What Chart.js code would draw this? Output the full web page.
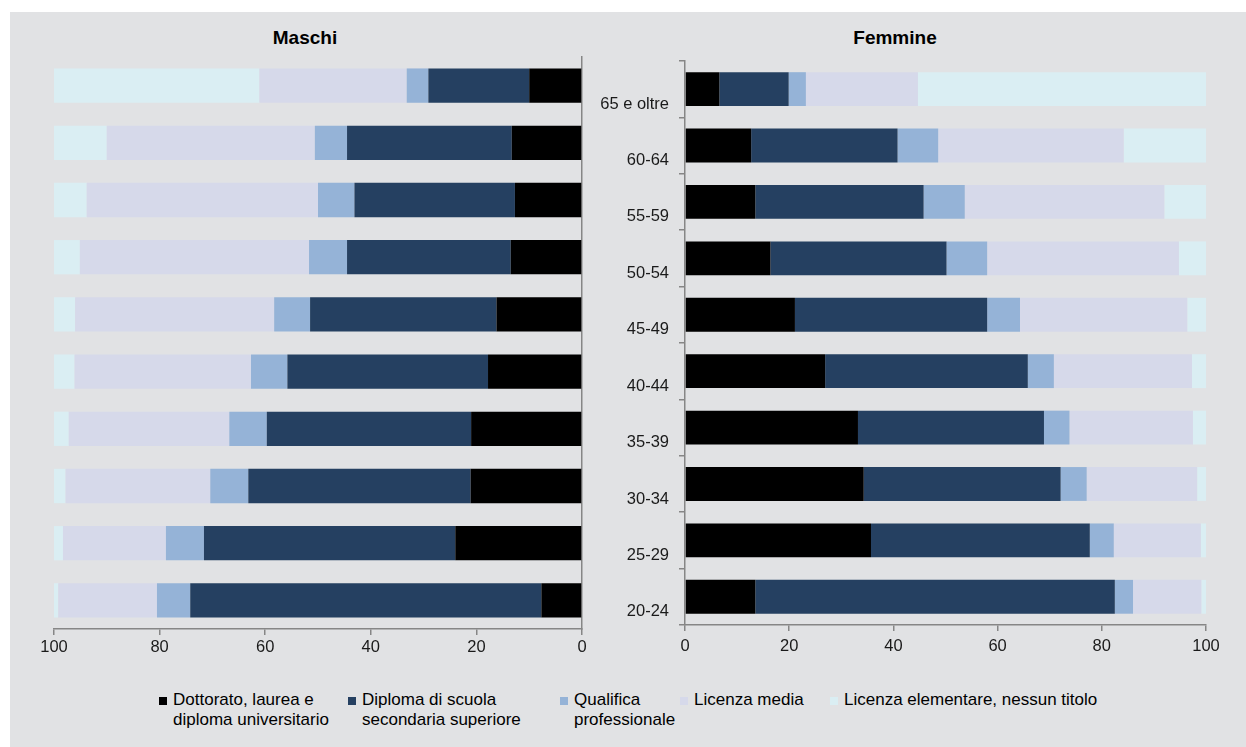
<!DOCTYPE html>
<html>
<head>
<meta charset="utf-8">
<script src="https://cdn.jsdelivr.net/npm/chart.js@4.4.1/dist/chart.umd.min.js"></script>
<style>
  body { margin: 0; background: #ffffff; font-family: "Liberation Sans", Arial, sans-serif; }
  #panel { position: absolute; left: 10px; top: 12px; width: 1236px; height: 735px; background: #e1e2e4; }
  .wrap { position: absolute; }
  .title { position: absolute; top: 15px; font-weight: bold; font-size: 19px; color: #000; text-align: center; }
  #legend { position: absolute; top: 678px; left: 0; width: 1236px; height: 50px; font-size: 17px; color: #000; }
  .item { position: absolute; top: 0; display: flex; align-items: flex-start; white-space: pre-line; line-height: 20px; }
  .box { width: 8px; height: 8px; margin-top: 7px; margin-right: 6px; flex: none; }
</style>
</head>
<body>
<div id="panel">
  <div class="title" style="left: 200px; width: 190px;">Maschi</div>
  <div class="title" style="left: 790px; width: 190px;">Femmine</div>
  <div class="wrap" style="left: 10px; top: 38px; width: 580px; height: 620px;"><canvas id="maschi"></canvas></div>
  <div class="wrap" style="left: 590px; top: 29px; width: 630px; height: 625px;"><canvas id="femmine"></canvas></div>
  <div id="legend"></div>
</div>
<script>
const ageGroups = ['65 e oltre', '60-64', '55-59', '50-54', '45-49', '40-44', '35-39', '30-34', '25-29', '20-24'];
const seriesNames = [
  'Dottorato, laurea e\ndiploma universitario',
  'Diploma di scuola\nsecondaria superiore',
  'Qualifica\nprofessionale',
  'Licenza media',
  'Licenza elementare, nessun titolo'
];
const seriesColors = ['#000000', '#254061', '#95b3d7', '#d6d9ea', '#daeef3'];
const xTicks = [0, 20, 40, 60, 80, 100];

// Maschi (valori percentuali)
const maschiDottorato  = [10.0, 13.3, 12.7, 13.5, 16.2, 17.8, 21.0, 21.1, 24.0, 7.7];
const maschiDiploma    = [19.1, 31.2, 30.4, 31.0, 35.3, 38.0, 38.7, 42.1, 47.6, 66.5];
const maschiQualifica  = [4.1, 6.1, 6.9, 7.2, 6.8, 6.9, 7.1, 7.2, 7.2, 6.3];
const maschiMedia      = [27.9, 39.4, 43.8, 43.4, 37.7, 33.4, 30.4, 27.4, 19.5, 18.7];
const maschiElementare = [38.9, 10.0, 6.2, 4.9, 4.0, 3.9, 2.8, 2.2, 1.7, 0.8];

// Femmine (valori percentuali)
const femmineDottorato  = [6.6, 12.7, 13.5, 16.4, 21.1, 26.9, 33.2, 34.3, 35.7, 13.5];
const femmineDiploma    = [13.3, 28.1, 32.3, 33.8, 36.9, 38.9, 35.7, 37.8, 42.0, 69.0];
const femmineQualifica  = [3.3, 7.8, 7.9, 7.8, 6.3, 5.0, 4.9, 5.0, 4.6, 3.5];
const femmineMedia      = [21.5, 35.6, 38.3, 36.8, 32.1, 26.5, 23.7, 21.2, 16.7, 13.1];
const femmineElementare = [55.3, 15.8, 8.0, 5.2, 3.6, 2.7, 2.5, 1.7, 1.0, 0.9];

const axisGray = '#868686';
const tickFont = { family: '"Liberation Sans", Arial, sans-serif', size: 16.5 };

function makeDatasets(series) {
  return series.map(function(values, i) {
    return {
      label: seriesNames[i].replace('\n', ' '),
      data: values,
      backgroundColor: seriesColors[i],
      borderWidth: 0,
      barPercentage: 0.6,
      categoryPercentage: 1.0
    };
  });
}

function xAxis(reverse, labelPad) {
  return {
    stacked: true,
    min: 0,
    max: 100,
    reverse: reverse,
    afterBuildTicks: function(scale) { scale.ticks = xTicks.map(v => ({ value: v })); },
    afterFit: function(scale) { scale.height = 41; },
    grid: { drawOnChartArea: false, drawTicks: true, tickLength: 6, color: axisGray, lineWidth: 1.5 },
    border: { color: axisGray, width: 1.5 },
    ticks: { color: '#1a1a1a', font: tickFont, padding: labelPad }
  };
}

new Chart(document.getElementById('maschi'), {
  type: 'bar',
  data: {
    labels: ageGroups,
    datasets: makeDatasets([maschiDottorato, maschiDiploma, maschiQualifica, maschiMedia, maschiElementare])
  },
  options: {
    indexAxis: 'y',
    responsive: true,
    maintainAspectRatio: false,
    animation: false,
    layout: { padding: { left: 34, right: 18, top: 7, bottom: 0 } },
    plugins: { legend: { display: false }, title: { display: false } },
    scales: {
      x: xAxis(true, 3),
      y: {
        stacked: true,
        position: 'right',
        afterFit: function(scale) { scale.width = 0; },
        grid: { drawOnChartArea: false, drawTicks: false },
        border: { color: axisGray, width: 1.5 },
        ticks: { display: false }
      }
    }
  }
});

new Chart(document.getElementById('femmine'), {
  type: 'bar',
  data: {
    labels: ageGroups,
    datasets: makeDatasets([femmineDottorato, femmineDiploma, femmineQualifica, femmineMedia, femmineElementare])
  },
  options: {
    indexAxis: 'y',
    responsive: true,
    maintainAspectRatio: false,
    animation: false,
    layout: { padding: { left: 0, right: 24, top: 0, bottom: 0 } },
    plugins: { legend: { display: false }, title: { display: false } },
    scales: {
      x: xAxis(false, 6),
      y: {
        stacked: true,
        position: 'left',
        afterFit: function(scale) { scale.width = 85; },
        grid: { drawOnChartArea: false, drawTicks: true, tickLength: 6, color: axisGray, lineWidth: 1.5 },
        border: { color: axisGray, width: 1.5 },
        ticks: { color: '#1a1a1a', font: tickFont, padding: 10, labelOffset: 15 }
      }
    }
  }
});

// legenda
const legendLefts = [149, 338, 550, 670, 820];
const legend = document.getElementById('legend');
seriesNames.forEach(function(name, i) {
  const item = document.createElement('div');
  item.className = 'item';
  item.style.left = legendLefts[i] + 'px';
  const box = document.createElement('span');
  box.className = 'box';
  box.style.background = seriesColors[i];
  const text = document.createElement('span');
  text.textContent = name;
  item.appendChild(box);
  item.appendChild(text);
  legend.appendChild(item);
});
</script>
</body>
</html>
